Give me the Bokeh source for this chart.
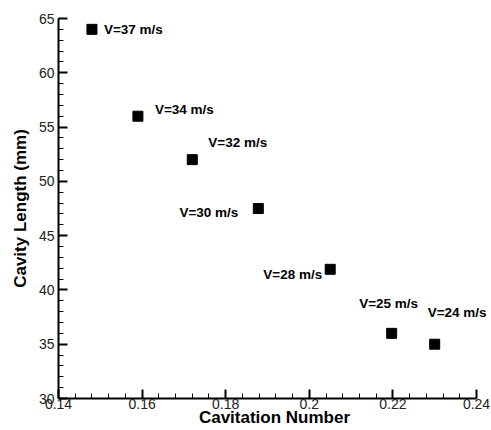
from bokeh.plotting import figure
from bokeh.models import ColumnDataSource, FixedTicker, Range1d, LabelSet
from bokeh.embed import file_html
from bokeh.resources import INLINE
from bokeh.core.properties import value

# ---- data ----
cavitation_number = [0.148, 0.159, 0.172, 0.1878, 0.205, 0.2197, 0.230]
cavity_length = [64.0, 56.0, 52.0, 47.5, 41.9, 36.0, 35.0]
velocity_labels = ["V=37 m/s", "V=34 m/s", "V=32 m/s", "V=30 m/s",
                   "V=28 m/s", "V=25 m/s", "V=24 m/s"]
x_ticks = [0.14, 0.16, 0.18, 0.20, 0.22, 0.24]
x_tick_labels = ["0.14", "0.16", "0.18", "0.2", "0.22", "0.24"]
y_ticks = [30, 35, 40, 45, 50, 55, 60, 65]

# label placement (screen px relative to marker; dy positive = down)
label_dx = [12, 17, 16, -20, -8, -3, -7]
label_dy = [0, -7, -17, 4, 5, -30, -32]
label_align = ["left", "left", "left", "right", "right", "center", "left"]

FONT = "Liberation Sans"

# axis spans 0.14..0.24 over 418 px; frame extends 14 px further right so
# the rightmost label is not clipped (axis line bounded to 0.24)
AXIS_PX = 418
EXTRA_PX = 14
x_start, x_end = x_ticks[0], x_ticks[-1]
x_frame_end = x_end + EXTRA_PX * (x_end - x_start) / AXIS_PX

p = figure(frame_width=AXIS_PX + EXTRA_PX, frame_height=380, output_backend="svg",
           toolbar_location=None,
           x_range=Range1d(x_start, x_frame_end), y_range=Range1d(30, 65),
           min_border_left=58, min_border_top=18, min_border_right=0,
           min_border_bottom=20)
p.outline_line_color = None
p.grid.visible = False
p.background_fill_color = "white"

src = ColumnDataSource(dict(x=cavitation_number, y=cavity_length))
p.scatter("x", "y", source=src, marker="square", size=10,
          fill_color="black", line_color="black")

for align in ("left", "right", "center"):
    idx = [i for i, a in enumerate(label_align) if a == align]
    s = ColumnDataSource(dict(
        x=[cavitation_number[i] for i in idx],
        y=[cavity_length[i] for i in idx],
        label=[velocity_labels[i] for i in idx],
        dx=[label_dx[i] for i in idx],
        dy=[-label_dy[i] for i in idx]))
    p.add_layout(LabelSet(x="x", y="y", text="label", source=s,
                          x_offset="dx", y_offset="dy",
                          text_align=align, text_baseline="middle",
                          text_font=value(FONT), text_font_style="bold",
                          text_font_size="13.5px", text_color="black"))

for ax in (p.xaxis[0], p.yaxis[0]):
    ax.axis_line_width = 2
    ax.axis_line_color = "black"
    ax.major_tick_in = 9
    ax.major_tick_out = 0
    ax.minor_tick_in = 5
    ax.minor_tick_out = 0
    ax.major_tick_line_width = 2
    ax.minor_tick_line_width = 1
    ax.major_tick_line_color = "black"
    ax.minor_tick_line_color = "black"
    ax.major_label_text_font = FONT
    ax.major_label_text_font_size = "14px"
    ax.major_label_text_color = "#222222"
    ax.axis_label_text_font = FONT
    ax.axis_label_text_font_style = "bold"
    ax.axis_label_text_font_size = "17px"
    ax.axis_label_text_color = "black"

p.xaxis.bounds = (x_start, x_end)
p.xaxis.ticker = FixedTicker(ticks=x_ticks,
                             minor_ticks=[round(0.14 + 0.004 * i, 3) for i in range(26)])
p.xaxis.major_label_overrides = {t: l for t, l in zip(x_ticks, x_tick_labels)}
p.yaxis.ticker = FixedTicker(ticks=y_ticks, minor_ticks=list(range(30, 66)))

p.xaxis.axis_label = "Cavitation Number"
p.yaxis.axis_label = "Cavity Length (mm)"
p.xaxis.major_label_standoff = 0
p.xaxis.axis_label_standoff = -4
p.yaxis.major_label_standoff = 4
p.yaxis.axis_label_standoff = 6

open("out.html", "w").write(file_html(p, INLINE))
